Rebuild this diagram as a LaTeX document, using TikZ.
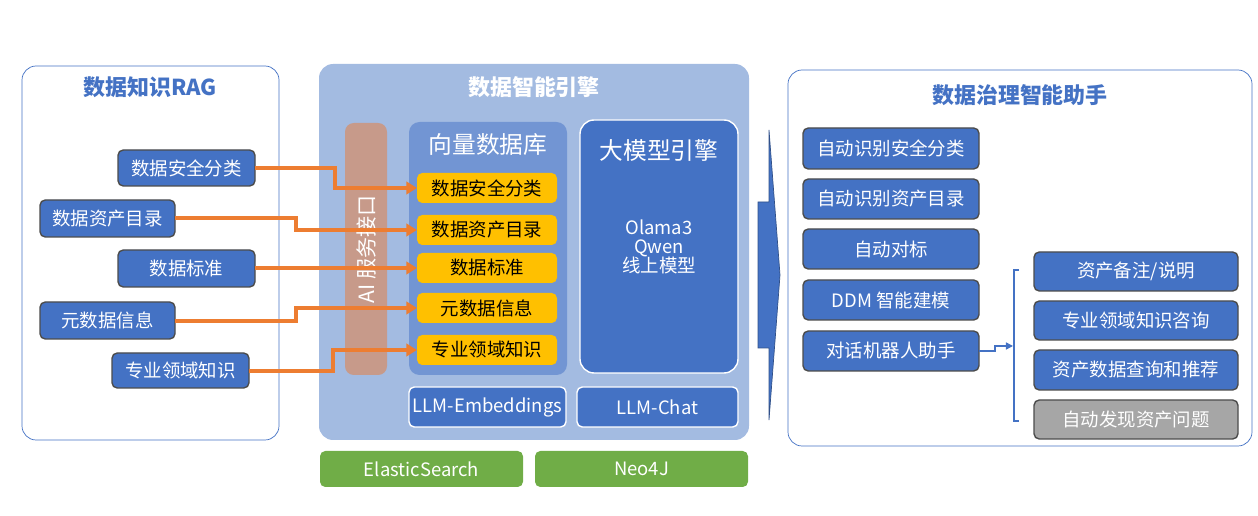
\documentclass[tikz,border=0pt]{standalone}
\usepackage{fontspec}
\setmainfont{Noto Sans CJK SC}
\usetikzlibrary{arrows.meta}
\definecolor{dblue}{HTML}{4472C4}
\definecolor{lblue}{HTML}{A3BBE1}
\definecolor{mblue}{HTML}{7295D3}
\definecolor{ttl}{HTML}{4472C4}
\definecolor{brn}{HTML}{C79A8A}
\definecolor{ylw}{HTML}{FFC000}
\definecolor{grn}{HTML}{70AD47}
\definecolor{org}{HTML}{ED7D31}
\definecolor{gry}{HTML}{A6A6A6}
\begin{document}
\begin{tikzpicture}[x=0.02cm,y=-0.02cm,
  every node/.style={font=\fontsize{10.5pt}{12pt}\selectfont},
  box/.style={draw=black!70,fill=dblue,text=white,rounded corners=3pt,thick},
  ybox/.style={fill=ylw,text=black,rounded corners=3pt},
  wbox/.style={draw=white,fill=dblue,text=white,rounded corners=3pt,thick},
  panel/.style={draw=dblue,rounded corners=8pt},
  ttlnode/.style={font=\fontsize{12.5pt}{14pt}\selectfont\bfseries},
  arr/.style={org,line width=2pt,-{Triangle[length=6pt,width=7pt]}}]

  \useasboundingbox (0,0) rectangle (1258,516);

  % left panel
  \draw[panel] (22,66) rectangle (279,440);
  \node[ttlnode,text=ttl] (ragt) at (150,87) {数据知识RAG};
  \draw[box] (118,150) rectangle (255,186) node[midway] (s1) {数据安全分类};
  \draw[box] (40,200) rectangle (175,237) node[midway] (s2) {数据资产目录};
  \draw[box] (118,250) rectangle (255,287) node[midway] (s3) {数据标准};
  \draw[box] (40,302) rectangle (175,339) node[midway] (s4) {元数据信息};
  \draw[box] (112,353) rectangle (249,388) node[midway] (s5) {专业领域知识};
  \coordinate (s1e) at (255,168);
  \coordinate (s2e) at (175,218);
  \coordinate (s3e) at (255,268);
  \coordinate (s4e) at (175,321);
  \coordinate (s5e) at (249,371);

  % middle panel
  \fill[lblue,rounded corners=8pt] (319,64) rectangle (749,440);
  \node[ttlnode,text=white] (engt) at (534,87) {数据智能引擎};
  \fill[brn,rounded corners=5pt] (345,123) rectangle (387,375);
  \node[rotate=90,text=white,font=\fontsize{12pt}{14pt}\selectfont] (ai) at (366,249) {AI 服务接口};
  \fill[mblue,rounded corners=6pt] (409,122) rectangle (567,375);
  \node[text=white,font=\fontsize{13.5pt}{15pt}\selectfont] (vdb) at (488,145) {向量数据库};
  \fill[ybox] (417,173) rectangle (557,203) node[midway] (y1) {数据安全分类};
  \fill[ybox] (417,215) rectangle (557,245) node[midway] (y2) {数据资产目录};
  \fill[ybox] (417,253) rectangle (557,283) node[midway] (y3) {数据标准};
  \fill[ybox] (417,293) rectangle (557,323) node[midway] (y4) {元数据信息};
  \fill[ybox] (417,335) rectangle (557,365) node[midway] (y5) {专业领域知识};
  \draw[wbox,rounded corners=8pt] (580,120) rectangle (738,373);
  \node[text=white,font=\fontsize{13.5pt}{15pt}\selectfont] (llm) at (659,150) {大模型引擎};
  \node[text=white,align=center,font=\fontsize{10.5pt}{11pt}\selectfont] (mods) at (659,247) {Olama3\\Qwen\\线上模型};
  \draw[wbox] (409,387) rectangle (566,427) node[midway] (emb) {LLM-Embeddings};
  \draw[wbox] (577,387) rectangle (738,427) node[midway] (chat) {LLM-Chat};
  \fill[grn,rounded corners=3pt] (320,451) rectangle (523,487) node[midway,text=white] (es) {ElasticSearch};
  \fill[grn,rounded corners=3pt] (535,451) rectangle (748,487) node[midway,text=white] (neo) {Neo4J};

  % orange arrows
  \draw[arr] (s1e) -| (335,188) -- (417,188);
  \draw[arr] (s2e) -| (296,230) -- (417,230);
  \draw[arr] (s3e) -- (417,268);
  \draw[arr] (s4e) -| (296,308) -- (417,308);
  \draw[arr] (s5e) -| (333,350) -- (417,350);

  % big arrow
  \draw[dblue!70!black,fill=dblue] (769,130) -- (780,275) -- (769,420) -- (769,348) -- (758,348) -- (758,202) -- (769,202) -- cycle;

  % right panel
  \draw[panel] (788,70) rectangle (1252,446);
  \node[ttlnode,text=ttl] (hlpt) at (1020,95) {数据治理智能助手};
  \draw[box] (803,128) rectangle (979,169) node[midway] (r1) {自动识别安全分类};
  \draw[box] (803,179) rectangle (979,219) node[midway] (r2) {自动识别资产目录};
  \draw[box] (803,229) rectangle (979,269) node[midway] (r3) {自动对标};
  \draw[box] (803,280) rectangle (979,320) node[midway] (r4) {DDM 智能建模};
  \draw[box] (803,331) rectangle (979,371) node[midway] (r5) {对话机器人助手};
  \draw[box] (1034,252) rectangle (1238,291) node[midway] (q1) {资产备注/说明};
  \draw[box] (1034,301) rectangle (1238,340) node[midway] (q2) {专业领域知识咨询};
  \draw[box] (1034,350) rectangle (1238,390) node[midway] (q3) {资产数据查询和推荐};
  \draw[box,fill=gry] (1034,400) rectangle (1238,439) node[midway] (q4) {自动发现资产问题};
  \draw[dblue,thick] (1019,270) -- (1014,270) -- (1014,421) -- (1019,421);
  \coordinate (brk) at (1013,346);
  \draw[dblue,thick,-{Triangle[length=4pt,width=4pt]}] (979,351) -- (995,351) -- (995,346) -- (brk);
\end{tikzpicture}
\end{document}
